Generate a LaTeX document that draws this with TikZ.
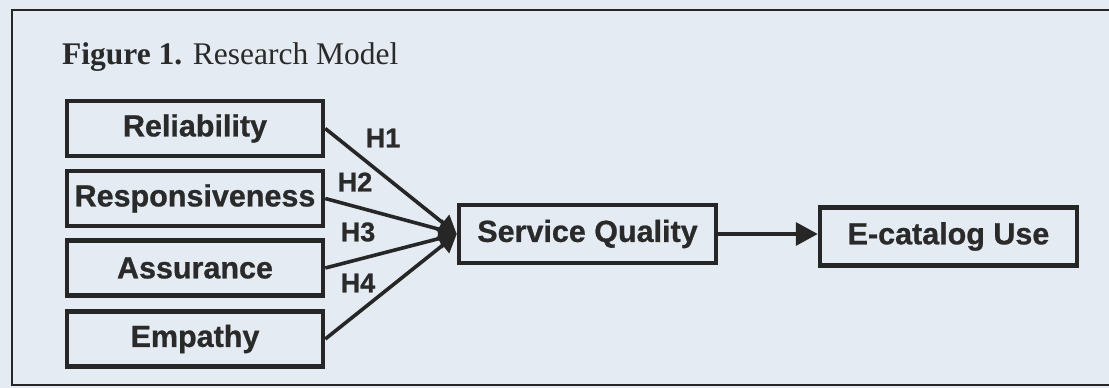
\documentclass[tikz,border=0pt]{standalone}
\usepackage{fontspec}
\setmainfont{Liberation Serif}
\newfontfamily\boxfont[BoldFeatures={FakeBold=0.8}]{Liberation Sans}
\usetikzlibrary{arrows.meta}
\definecolor{paper}{HTML}{E4EBF2}
\definecolor{ink}{HTML}{262626}
\definecolor{txt}{HTML}{2A2A2A}
\begin{document}
\begin{tikzpicture}[x=1pt,y=-1pt,
  factor/.style={draw=ink, line width=4.5pt, minimum width=256pt, minimum height=55pt,
    inner sep=0pt, font=\boxfont\bfseries\fontsize{30.5}{34}\selectfont, text=txt},
  outbox/.style={draw=ink, line width=4.5pt, minimum width=257pt, minimum height=58pt,
    inner sep=0pt, font=\boxfont\bfseries\fontsize{30.5}{34}\selectfont, text=txt},
  hyp/.style={font=\boxfont\bfseries\fontsize{27}{30}\selectfont, text=txt, inner sep=0pt},
  link/.style={draw=ink, line width=3.6pt, -{Triangle[length=18pt,width=20pt]}},
  frame/.style={draw=ink, line width=2pt}]
\useasboundingbox (0,0) rectangle (1109,388);
\fill[paper] (0,0) rectangle (1109,388);
\draw[frame] (1112,10) -- (12,10) -- (12,385) -- (1112,385);
\node[anchor=base west, inner sep=0pt, text=txt, font=\fontsize{31.5}{36}\selectfont] (title) at (62,64) {\textbf{Figure 1.} Research Model};
\node[factor] (rel) at (195,128.5) {Reliability};
\node[factor] (res) at (195,198.5) {Responsiveness};
\node[factor] (ass) at (195,268) {Assurance};
\node[factor] (emp) at (195,339) {Empathy};
\node[outbox] (sq) at (587.5,234) {Service Quality};
\node[outbox] (ec) at (948.5,236.5) {E-catalog Use};
\draw[link] (rel.east) -- (sq.west);
\draw[link] (res.east) -- (sq.west);
\draw[link] (ass.east) -- (sq.west);
\draw[link] (emp.east) -- (sq.west);
\draw[draw=ink, line width=3.6pt, -{Triangle[length=22pt,width=23pt]}] (sq.east) -- (ec.west |- sq.east);
\node[hyp] (h1) at (383,138) {H1};
\node[hyp] (h2) at (355,182) {H2};
\node[hyp] (h3) at (358,232) {H3};
\node[hyp] (h4) at (358,283) {H4};
\end{tikzpicture}
\end{document}
